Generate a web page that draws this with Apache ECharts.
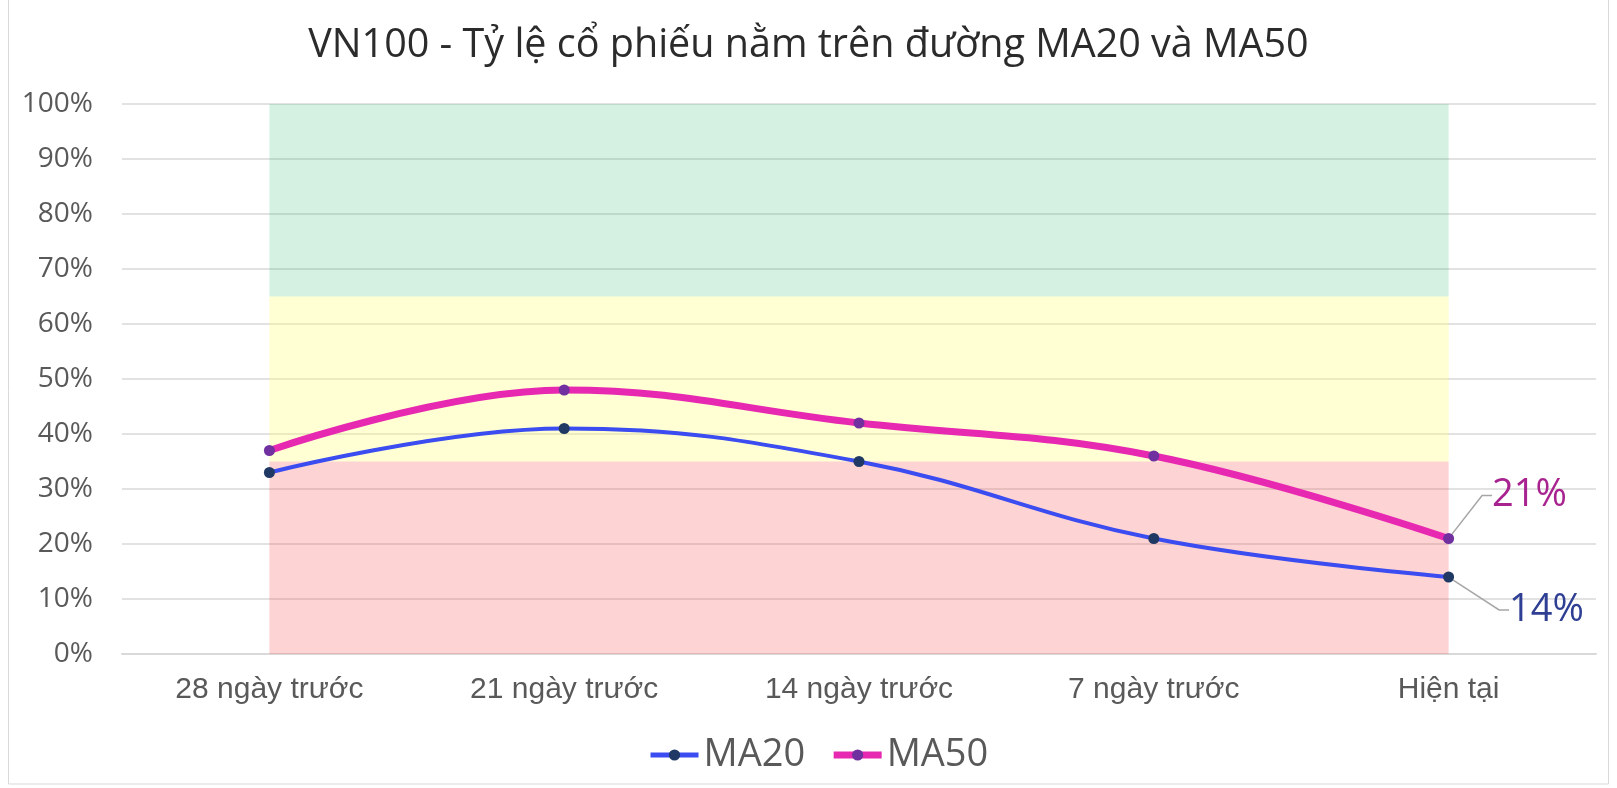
<!DOCTYPE html>
<html>
<head>
<meta charset="utf-8">
<script src="https://cdn.jsdelivr.net/npm/echarts@6/dist/echarts.min.js"></script>
<style>
  html, body { margin: 0; padding: 0; background: #fff; }
  #chart { width: 1617px; height: 788px; }
</style>
</head>
<body>
<div id="chart"></div>
<script>
// categories and values (percent)
const categories = ['28 ngày trước', '21 ngày trước', '14 ngày trước', '7 ngày trước', 'Hiện tại'];
const ma20 = [33, 41, 35, 21, 14];
const ma50 = [37, 48, 42, 36, 21];
// zones: [from, to]
const zoneHigh = [65, 100];
const zoneMid = [35, 65];
const zoneLow = [0, 35];

const chart = echarts.init(document.getElementById('chart'));

const first = categories[0];
const last = categories[categories.length - 1];
const lastIdx = categories.length - 1;

// only the last point gets a label
const withEndLabel = (values, color) => values.map((v, i) => {
  if (i !== lastIdx) return v;
  return {
    value: v,
    label: {
      show: true,
      position: 'right',
      formatter: '{c}%',
      fontFamily: 'Open Sans',
      fontSize: 38,
      color: color
    }
  };
});

const option = {
  backgroundColor: '#fff',
  animation: false,
  title: {
    text: 'VN100 - Tỷ lệ cổ phiếu nằm trên đường MA20 và MA50',
    left: 'center',
    top: 21,
    textStyle: { fontFamily: 'Open Sans', fontSize: 39.5, fontWeight: 'normal', color: '#2b2b2b' }
  },
  legend: {
    left: 643,
    top: 731,
    itemWidth: 48,
    itemHeight: 14,
    itemGap: 25,
    textStyle: { fontFamily: 'Open Sans', fontSize: 38, color: '#595959' },
    data: [
      { name: 'MA20', lineStyle: { width: 5 } },
      { name: 'MA50', lineStyle: { width: 7 } }
    ]
  },
  graphic: [{
    type: 'rect',
    shape: { x: 8.5, y: -1, width: 1600, height: 785 },
    style: { fill: 'none', stroke: '#d9d9d9', lineWidth: 1 },
    silent: true
  }],
  grid: { left: 122, right: 21, top: 104, bottom: 134 },
  xAxis: {
    type: 'category',
    data: categories,
    axisLine: { lineStyle: { color: '#d9d9d9', width: 2 } },
    axisTick: { show: false },
    axisLabel: { fontFamily: 'Liberation Sans', fontSize: 30, color: '#595959', margin: 21 }
  },
  yAxis: {
    type: 'value',
    min: 0,
    max: 100,
    interval: 10,
    axisLabel: { formatter: '{value}%', fontFamily: 'Open Sans', fontSize: 28, color: '#595959', margin: 29 },
    splitLine: { lineStyle: { color: '#d9d9d9', width: 1.5 } }
  },
  series: [
    {
      name: 'MA20',
      type: 'line',
      smooth: 0.4,
      data: withEndLabel(ma20, '#2f3f94'),
      symbol: 'circle',
      symbolSize: 11,
      lineStyle: { color: '#3b4cf0', width: 4 },
      itemStyle: { color: '#1f3864' },
      labelLine: { show: true, length2: 10, lineStyle: { color: '#a6a6a6', width: 1.5 } },
      labelLayout: (p) => (p.dataIndex === lastIdx ? { dx: 50, dy: 33 } : {}),
      z: 3,
      markArea: {
        silent: true,
        data: [
          [{ xAxis: first, yAxis: zoneHigh[0], itemStyle: { color: 'rgba(46,184,104,0.2)' } }, { xAxis: last, yAxis: zoneHigh[1] }],
          [{ xAxis: first, yAxis: zoneMid[0], itemStyle: { color: 'rgba(255,255,120,0.33)' } }, { xAxis: last, yAxis: zoneMid[1] }],
          [{ xAxis: first, yAxis: zoneLow[0], itemStyle: { color: 'rgba(250,80,80,0.25)' } }, { xAxis: last, yAxis: zoneLow[1] }]
        ]
      }
    },
    {
      name: 'MA50',
      type: 'line',
      smooth: 0.4,
      data: withEndLabel(ma50, '#a8238f'),
      symbol: 'circle',
      symbolSize: 11,
      lineStyle: { color: '#e629b0', width: 7 },
      itemStyle: { color: '#7030a0' },
      labelLine: { show: true, length2: 10, lineStyle: { color: '#a6a6a6', width: 1.5 } },
      labelLayout: (p) => (p.dataIndex === lastIdx ? { dx: 33, dy: -43 } : {}),
      z: 4
    }
  ]
};

chart.setOption(option);
</script>
</body>
</html>
